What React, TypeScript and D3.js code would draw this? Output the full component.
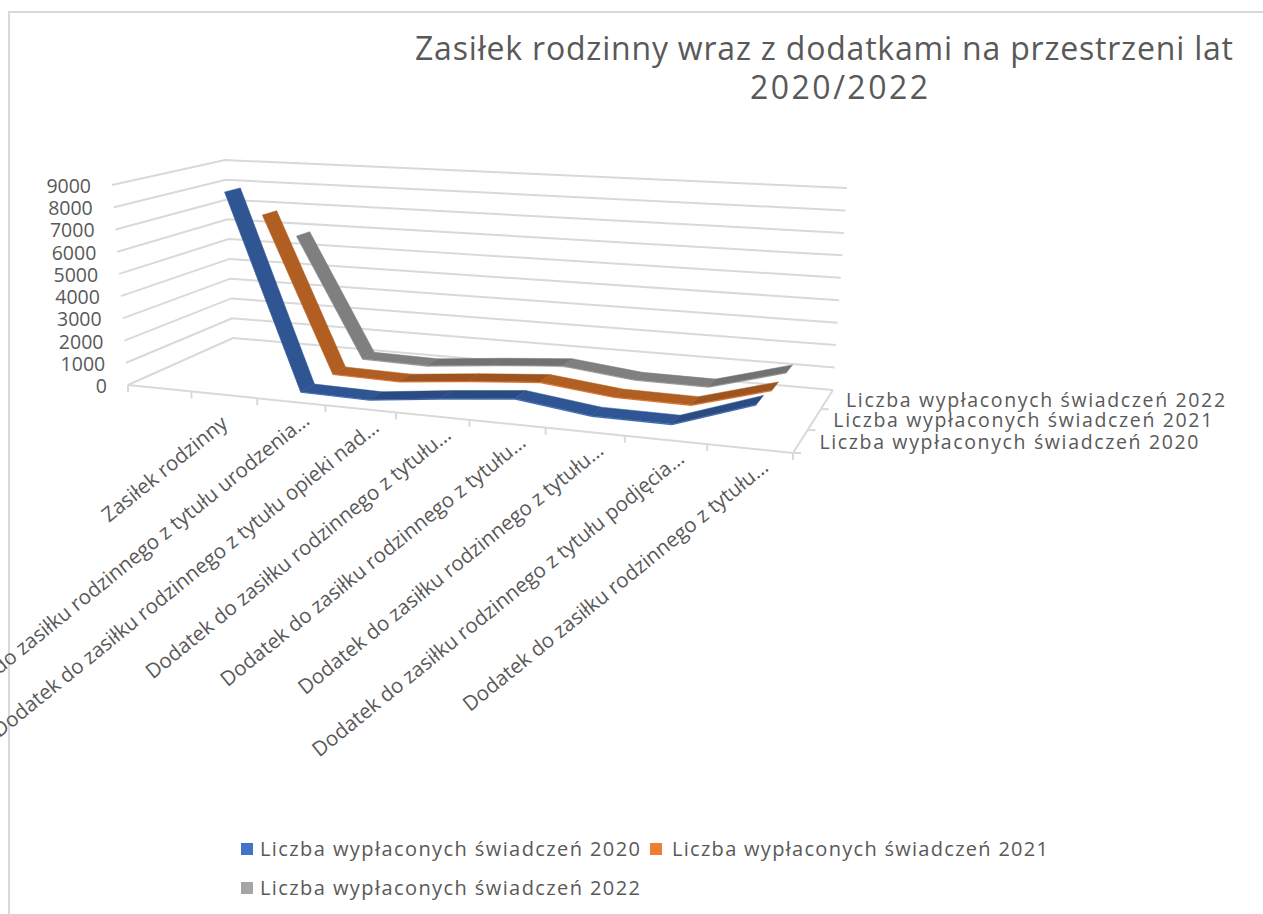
import React, {useRef, useEffect} from 'react';
import * as d3 from 'd3';

const categories = [
  '',
  'Zasiłek rodzinny',
  'Dodatek do zasiłku rodzinnego z tytułu urodzenia…',
  'Dodatek do zasiłku rodzinnego z tytułu opieki nad…',
  'Dodatek do zasiłku rodzinnego z tytułu…',
  'Dodatek do zasiłku rodzinnego z tytułu …',
  'Dodatek do zasiłku rodzinnego z tytułu  …',
  'Dodatek do zasiłku rodzinnego z tytułu podjęcia…',
  'Dodatek do zasiłku rodzinnego z tytułu   …',
];
const seriesNames = [
  'Liczba wypłaconych świadczeń 2020',
  'Liczba wypłaconych świadczeń 2021',
  'Liczba wypłaconych świadczeń 2022',
];
const values2020 = [8800, 200, 150, 500, 800, 400, 380, 1500];
const values2021 = [7300, 200, 150, 450, 700, 350, 320, 1250];
const values2022 = [5800, 150, 100, 400, 650, 300, 280, 1200];
const valueTicks = [0, 1000, 2000, 3000, 4000, 5000, 6000, 7000, 8000, 9000];

const ribbonColors = ['#2f5592', '#b05e21', '#7f7f7f'];
const edgeColors = ['#4472c4', '#ed7d31', '#a5a5a5'];
const legendColors = ['#4472c4', '#ed7d31', '#a5a5a5'];

// narożniki podłogi i górnej płaszczyzny: przód-lewo, przód-prawo, tył-prawo, tył-lewo
const floorQuad: number[][] = [[128, 385], [793, 453], [833, 390], [233, 338]];
const topQuad: number[][] = [[112, 185], [807, 221.5], [847, 188], [225, 160]];

function homography(q: number[][]) {
  const [[x0, y0], [x1, y1], [x2, y2], [x3, y3]] = q;
  const dx1 = x1 - x2, dx2 = x3 - x2, dx3 = x0 - x1 + x2 - x3;
  const dy1 = y1 - y2, dy2 = y3 - y2, dy3 = y0 - y1 + y2 - y3;
  const den = dx1 * dy2 - dx2 * dy1;
  const g = (dx3 * dy2 - dx2 * dy3) / den;
  const h = (dx1 * dy3 - dx3 * dy1) / den;
  return (u: number, v: number) => {
    const w = g * u + h * v + 1;
    return [
      ((x1 - x0 + g * x1) * u + (x3 - x0 + h * x3) * v + x0) / w,
      ((y1 - y0 + g * y1) * u + (y3 - y0 + h * y3) * v + y0) / w,
    ];
  };
}

const floorAt = homography(floorQuad);
const topAt = homography(topQuad);

const catScale = d3.scaleBand<string>().domain(categories).range([0, 1]);
const depthScale = d3.scaleBand<string>().domain(seriesNames).range([0, 1]);
const valueScale = d3.scaleLinear().domain([0, 9000]).range([0, 1]);

// rzut punktu (u, głębokość, wartość) na ekran
const project = (u: number, d: number, value: number): [number, number] => {
  const a = floorAt(u, d);
  const b = topAt(u, d);
  const t = valueScale(value);
  return [a[0] + (b[0] - a[0]) * t, a[1] + (b[1] - a[1]) * t];
};

export default function App() {
  const chartRef = useRef<SVGSVGElement>(null);

  useEffect(() => {
    const svg = d3.select(chartRef.current);
    svg.selectAll('*').remove();
    const path = d3.line();
    const gridColor = '#d9d9d9';
    const textColor = '#595959';
    const font = '"Open Sans", sans-serif';

    // ramka
    svg.append('path').attr('d', 'M9,914V12H1263').attr('fill', 'none')
      .attr('stroke', gridColor).attr('stroke-width', 2);

    // tytuł
    svg.append('text').attr('x', 415).attr('y', 60).attr('textLength', 818)
      .attr('font-size', 32).attr('font-family', font).attr('fill', textColor)
      .text('Zasiłek rodzinny wraz z dodatkami na przestrzeni lat');
    svg.append('text').attr('x', 750).attr('y', 99).attr('textLength', 178)
      .attr('font-size', 32).attr('font-family', font).attr('fill', textColor)
      .text('2020/2022');

    // siatka
    const grid = svg.append('g').attr('fill', 'none').attr('stroke', gridColor).attr('stroke-width', 2);
    valueTicks.forEach((v) => {
      grid.append('path').attr('d', path([project(0, 0, v), project(0, 1, v), project(1, 1, v)]));
    });
    grid.append('path').attr('d', path([project(0, 0, 0), project(1, 0, 0), project(1, 1, 0)]));

    // znaczniki osi
    const tickUs = categories.map((c) => catScale(c) as number).concat(1);
    tickUs.forEach((u) => {
      const p = project(u, 0, 0);
      grid.append('path').attr('d', path([p, [p[0], p[1] + 7]]));
    });
    [0, 1, 2].forEach((i) => {
      const p = project(1, i / 3, 0);
      grid.append('path').attr('d', path([p, [p[0] + 8, p[1]]]));
    });

    // etykiety wartości
    valueTicks.forEach((v) => {
      const p = project(0, 0, v);
      svg.append('text').attr('x', p[0] - 21).attr('y', p[1] + 8).attr('text-anchor', 'end')
        .attr('font-size', 19.5).attr('font-family', font).attr('fill', textColor).text(v);
    });

    // etykiety kategorii
    categories.forEach((c) => {
      if (!c) return;
      const u = (catScale(c) as number) + catScale.bandwidth() / 2;
      const p = project(u, 0, 0);
      const first = c === categories[1];
      svg.append('text').attr('text-anchor', 'end')
        .attr('transform', `translate(${p[0] + (first ? 5 : 20)},${p[1] + (first ? 31 : 21)}) rotate(-39)`)
        .attr('font-size', 20.5).attr('font-family', font).attr('fill', textColor)
        .text(c.replace(/\s+…/, '…'));
    });

    // etykiety serii na osi głębokości
    seriesNames.forEach((s) => {
      const p = project(1, (depthScale(s) as number) + depthScale.bandwidth() / 2, 0);
      svg.append('text').attr('x', p[0] + 19).attr('y', p[1] + 8).attr('textLength', 379)
        .attr('font-size', 19.5).attr('font-family', font).attr('fill', textColor).text(s);
    });

    // wstęgi: od tylnej serii do przedniej
    const seriesValues = [values2020, values2021, values2022];
    const halfW = 0.07;
    const thick = 50;
    const ribbons = svg.append('g');
    [2, 1, 0].forEach((si) => {
      const dc = (depthScale(seriesNames[si]) as number) + depthScale.bandwidth() / 2;
      const vals = seriesValues[si];
      const us = categories.slice(1).map((c) => (catScale(c) as number) + catScale.bandwidth() / 2);
      for (let i = 0; i < vals.length - 1; i++) {
        const a = vals[i], b = vals[i + 1];
        ribbons.append('path')
          .attr('d', path([
            project(us[i], dc - halfW, a), project(us[i + 1], dc - halfW, b),
            project(us[i + 1], dc - halfW, b - thick), project(us[i], dc - halfW, a - thick),
          ]) + 'Z')
          .attr('fill', edgeColors[si]);
        const rising = b > a * 1.5;
        const fill = rising ? d3.color(ribbonColors[si])!.darker(0.3).formatHex() : ribbonColors[si];
        ribbons.append('path')
          .attr('d', path([
            project(us[i], dc - halfW, a), project(us[i + 1], dc - halfW, b),
            project(us[i + 1], dc + halfW, b), project(us[i], dc + halfW, a),
          ]) + 'Z')
          .attr('fill', fill)
          .attr('stroke', fill)
          .attr('stroke-width', 0.5);
      }
    });

    // legenda
    const legendRows = [[241, 260, 849], [650, 672, 849], [241, 260, 888]];
    seriesNames.forEach((s, i) => {
      const [sx, tx, ty] = legendRows[i];
      svg.append('rect').attr('x', sx).attr('y', ty - 6).attr('width', 12).attr('height', 12)
        .attr('fill', legendColors[i]);
      svg.append('text').attr('x', tx).attr('y', ty + 7).attr('textLength', i === 1 ? 376 : 380)
        .attr('font-size', 20).attr('font-family', font).attr('fill', textColor).text(s);
    });
  }, []);

  return (
    <svg ref={chartRef} width={1263} height={914}
      style={{position: 'absolute', top: 0, left: 0, background: '#fff'}} />
  );
}
